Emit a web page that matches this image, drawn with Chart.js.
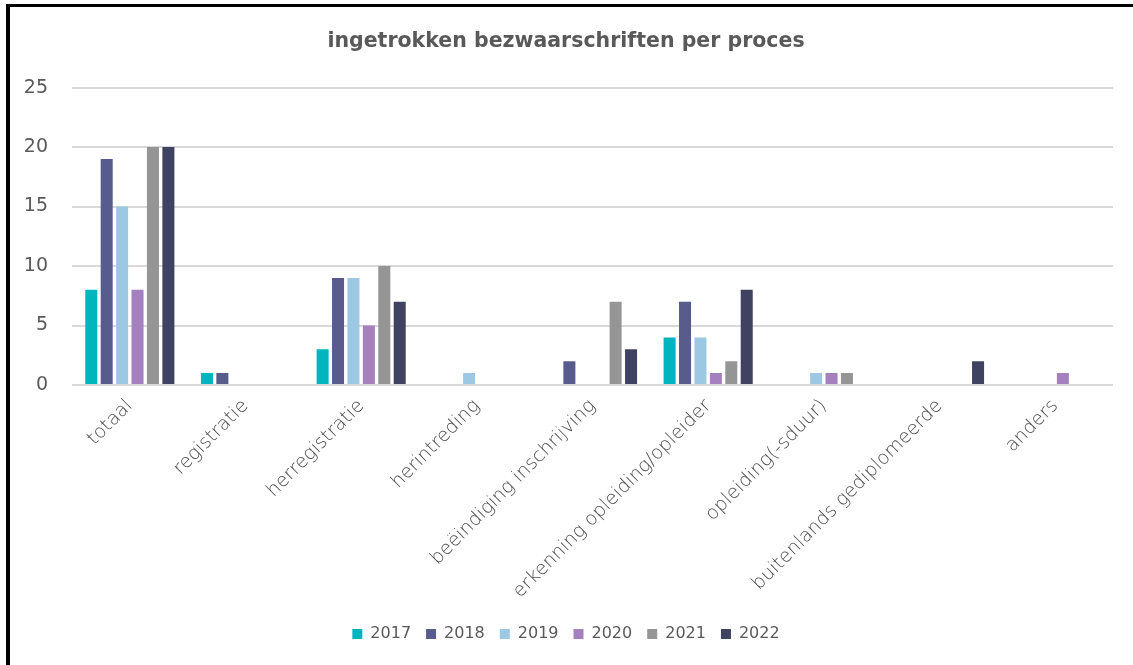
<!DOCTYPE html>
<html>
<head>
<meta charset="utf-8">
<script src="https://cdn.jsdelivr.net/npm/chart.js@4/dist/chart.umd.min.js"></script>
<style>
  html, body { margin: 0; padding: 0; background: #fff; overflow: hidden; }
  .rand { position: absolute; background: #000; }
  #myChart { position: absolute; left: 10px; top: 7px; }
</style>
</head>
<body>
<div class="rand" style="left:6px; top:4px; width:4px; height:661px;"></div>
<div class="rand" style="left:6px; top:4px; width:1127px; height:3px;"></div>
<canvas id="myChart" width="1123" height="658"></canvas>
<script>
// categorieën en waarden per jaar
const categories = ['totaal', 'registratie', 'herregistratie', 'herintreding', 'beëindiging inschrijving',
  'erkenning opleiding/opleider', 'opleiding(-sduur)', 'buitenlands gediplomeerde', 'anders'];
const years = ['2017', '2018', '2019', '2020', '2021', '2022'];
const data2017 = [8, 1, 3, 0, 0, 4, 0, 0, 0];
const data2018 = [19, 1, 9, 0, 2, 7, 0, 0, 0];
const data2019 = [15, 0, 9, 1, 0, 4, 1, 0, 0];
const data2020 = [8, 0, 5, 0, 0, 1, 1, 0, 1];
const data2021 = [20, 0, 10, 0, 7, 2, 1, 0, 0];
const data2022 = [20, 0, 7, 0, 3, 8, 0, 2, 0];
const yTicks = [0, 5, 10, 15, 20, 25];

const colors = ['#00b5bd', '#585c8c', '#9dc8e4', '#a580be', '#959595', '#404262'];
const series = [data2017, data2018, data2019, data2020, data2021, data2022];
const fontFam = '"DejaVu Sans", sans-serif';
const textColor = '#595959';

const ctx = document.getElementById('myChart').getContext('2d');
new Chart(ctx, {
  type: 'bar',
  data: {
    labels: categories,
    datasets: years.map((y, i) => ({
      label: y,
      data: series[i],
      backgroundColor: colors[i],
      borderWidth: 0,
      categoryPercentage: 0.8,
      barPercentage: 0.78,
    })),
  },
  options: {
    responsive: false,
    animation: false,
    layout: { padding: { left: 9, right: 20, top: 0, bottom: 13 } },
    plugins: {
      title: {
        display: true,
        text: 'ingetrokken bezwaarschriften per proces',
        color: textColor,
        font: { family: fontFam, size: 20.5, weight: 'bold' },
        padding: { top: 22, bottom: 34 },
      },
      legend: {
        position: 'bottom',
        labels: {
          boxWidth: 10, boxHeight: 10, padding: 15,
          color: textColor,
          font: { family: fontFam, size: 16 },
        },
      },
      tooltip: { enabled: false },
    },
    scales: {
      x: {
        grid: { display: false, drawTicks: false },
        border: { display: false },
        ticks: {
          color: '#4d4d4d',
          font: { family: fontFam, size: 19, weight: 300 },
          minRotation: 45, maxRotation: 45,
          padding: 10,
        },
        afterFit: (scale) => { scale.height = 226; },
      },
      y: {
        min: 0, max: 25,
        afterBuildTicks: (scale) => { scale.ticks = yTicks.map(v => ({ value: v })); },
        grid: { color: '#d9d9d9', lineWidth: 2, drawTicks: false },
        border: { display: false },
        ticks: {
          color: textColor,
          font: { family: fontFam, size: 19 },
          padding: 24,
        },
        afterFit: (scale) => { scale.width = 53; },
      },
    },
  },
});
</script>
</body>
</html>
